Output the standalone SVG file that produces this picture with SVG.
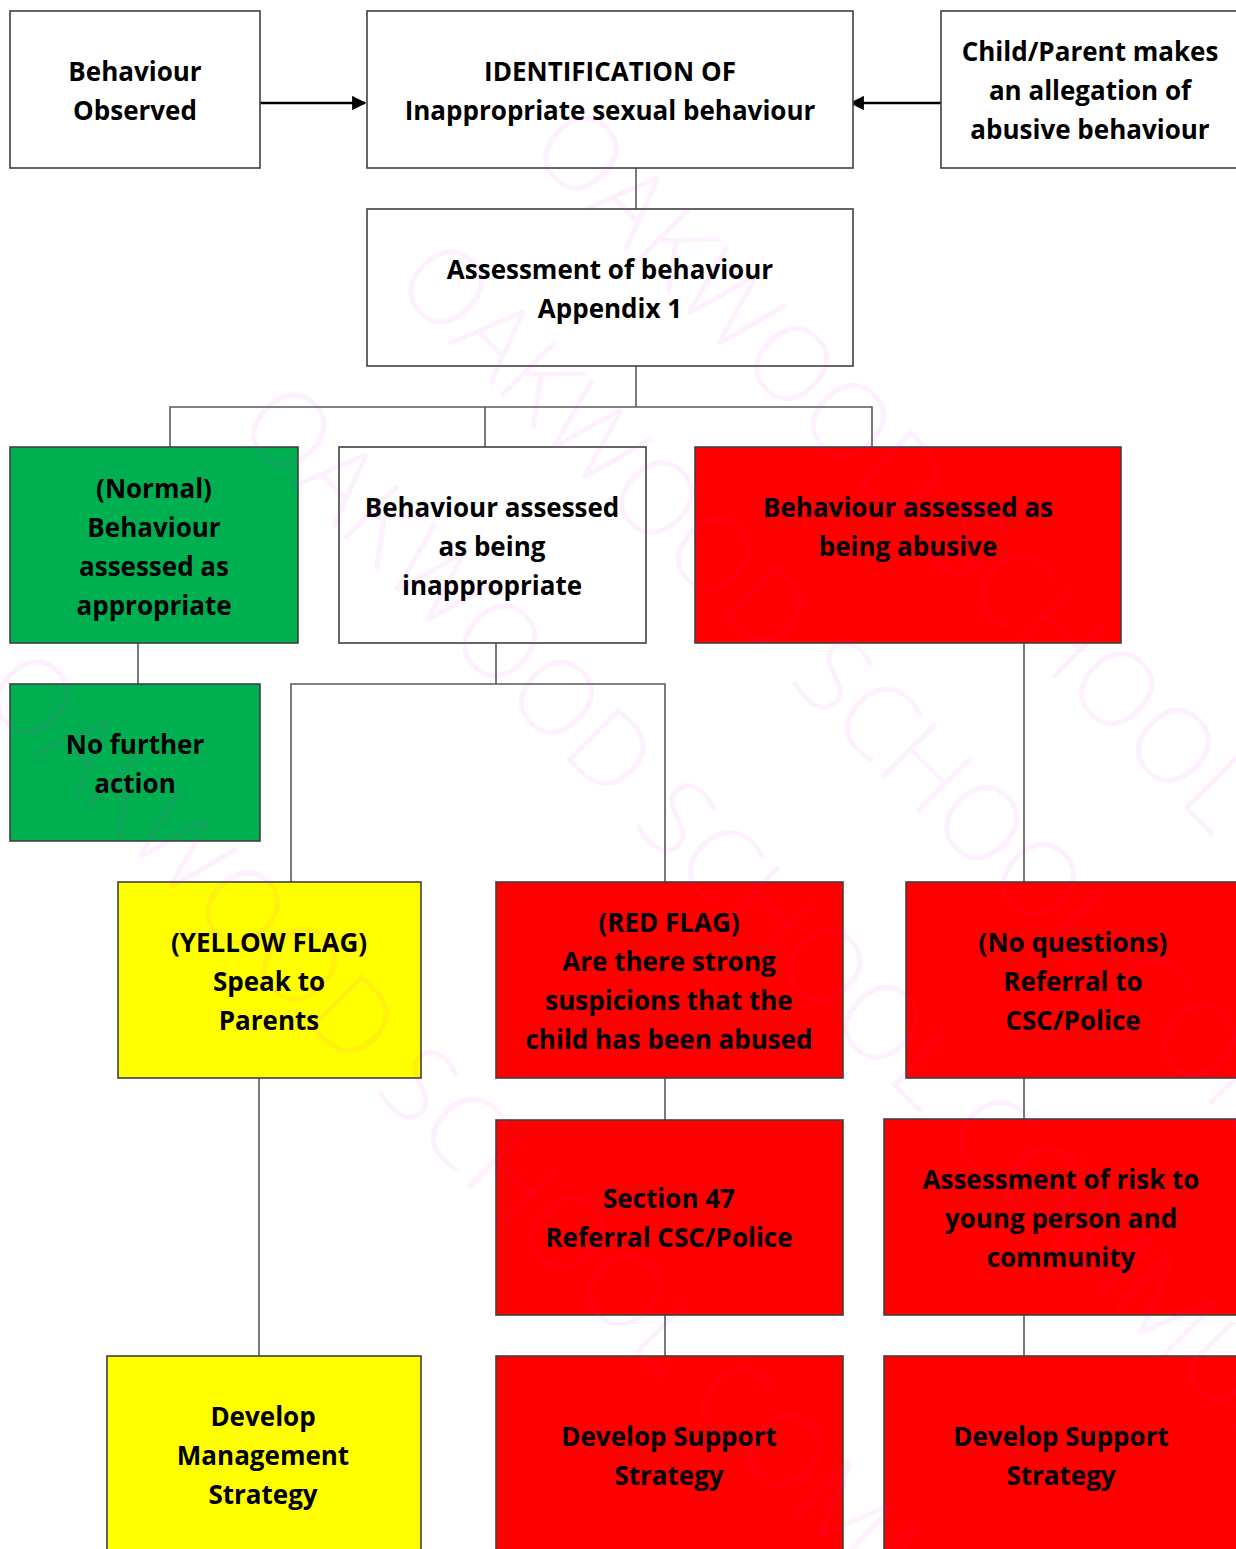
<svg xmlns="http://www.w3.org/2000/svg" width="1236" height="1549" viewBox="0 0 1236 1549">
  <defs>
    <marker id="arr" viewBox="0 0 10 10" refX="9" refY="5" markerWidth="6" markerHeight="5.5" markerUnits="strokeWidth" orient="auto">
      <path d="M0,0 L10,5 L0,10 z" fill="#000"/>
    </marker>
  </defs>
  <style>
    .box { stroke: #404040; stroke-width: 1.6; }
    .white { fill: #ffffff; }
    .green { fill: #00b050; }
    .yellow { fill: #ffff00; }
    .red { fill: #ff0000; }
    .t { font-family: "Open Sans", "Liberation Sans", sans-serif; font-weight: bold; font-size: 26px; text-anchor: middle; fill: #000; }
    .conn { stroke: #595959; stroke-width: 1.6; fill: none; }
    .arrow { stroke: #000; stroke-width: 2.6; fill: none; }
    .wm { font-family: "Open Sans", "Liberation Sans", sans-serif; font-weight: 300; font-size: 105px; fill: #ff00ff; fill-opacity: 0.06; }
  </style>
  <rect width="1236" height="1549" fill="#ffffff"/>

  <g id="connectors">
    <line class="arrow" x1="260" y1="103" x2="365" y2="103" marker-end="url(#arr)"/>
    <line class="arrow" x1="941" y1="103" x2="851" y2="103" marker-end="url(#arr)"/>
    <line class="conn" x1="636" y1="168" x2="636" y2="209"/>
    <line class="conn" x1="636" y1="366" x2="636" y2="407"/>
    <polyline class="conn" points="170,447 170,407 872,407 872,447"/>
    <line class="conn" x1="485" y1="407" x2="485" y2="447"/>
    <line class="conn" x1="138" y1="643" x2="138" y2="684"/>
    <line class="conn" x1="496" y1="643" x2="496" y2="684"/>
    <polyline class="conn" points="291,882 291,684 665,684 665,882"/>
    <line class="conn" x1="1024" y1="643" x2="1024" y2="882"/>
    <line class="conn" x1="259" y1="1078" x2="259" y2="1356"/>
    <line class="conn" x1="665" y1="1078" x2="665" y2="1120"/>
    <line class="conn" x1="665" y1="1315" x2="665" y2="1356"/>
    <line class="conn" x1="1024" y1="1078" x2="1024" y2="1119"/>
    <line class="conn" x1="1024" y1="1315" x2="1024" y2="1356"/>
  </g>

  <g id="n-observed">
    <rect class="box white" x="10" y="11" width="250" height="157"/>
    <text class="t" x="135" y="81">Behaviour</text>
    <text class="t" x="135" y="120">Observed</text>
  </g>
  <g id="n-identification">
    <rect class="box white" x="367" y="11" width="486" height="157"/>
    <text class="t" x="610" y="81">IDENTIFICATION OF</text>
    <text class="t" x="610" y="120">Inappropriate sexual behaviour</text>
  </g>
  <g id="n-allegation">
    <rect class="box white" x="941" y="11" width="300" height="157"/>
    <text class="t" x="1090" y="61">Child/Parent makes</text>
    <text class="t" x="1090" y="100">an allegation of</text>
    <text class="t" x="1090" y="139">abusive behaviour</text>
  </g>
  <g id="n-assessment">
    <rect class="box white" x="367" y="209" width="486" height="157"/>
    <text class="t" x="610" y="279">Assessment of behaviour</text>
    <text class="t" x="610" y="318">Appendix 1</text>
  </g>
  <g id="n-appropriate">
    <rect class="box green" x="10" y="447" width="288" height="196"/>
    <text class="t" x="154" y="498">(Normal)</text>
    <text class="t" x="154" y="537">Behaviour</text>
    <text class="t" x="154" y="576">assessed as</text>
    <text class="t" x="154" y="615">appropriate</text>
  </g>
  <g id="n-inappropriate">
    <rect class="box white" x="339" y="447" width="307" height="196"/>
    <text class="t" x="492" y="517">Behaviour assessed</text>
    <text class="t" x="492" y="556">as being</text>
    <text class="t" x="492" y="595">inappropriate</text>
  </g>
  <g id="n-abusive">
    <rect class="box red" x="695" y="447" width="426" height="196"/>
    <text class="t" x="908" y="517">Behaviour assessed as</text>
    <text class="t" x="908" y="556">being abusive</text>
  </g>
  <g id="n-nofurther">
    <rect class="box green" x="10" y="684" width="250" height="157"/>
    <text class="t" x="135" y="754">No further</text>
    <text class="t" x="135" y="793">action</text>
  </g>
  <g id="n-yellowflag">
    <rect class="box yellow" x="118" y="882" width="303" height="196"/>
    <text class="t" x="269" y="952">(YELLOW FLAG)</text>
    <text class="t" x="269" y="991">Speak to</text>
    <text class="t" x="269" y="1030">Parents</text>
  </g>
  <g id="n-redflag">
    <rect class="box red" x="496" y="882" width="347" height="196"/>
    <text class="t" x="669" y="932">(RED FLAG)</text>
    <text class="t" x="669" y="971">Are there strong</text>
    <text class="t" x="669" y="1010">suspicions that the</text>
    <text class="t" x="669" y="1049">child has been abused</text>
  </g>
  <g id="n-noquestions">
    <rect class="box red" x="906" y="882" width="335" height="196"/>
    <text class="t" x="1073" y="952">(No questions)</text>
    <text class="t" x="1073" y="991">Referral to</text>
    <text class="t" x="1073" y="1030">CSC/Police</text>
  </g>
  <g id="n-section47">
    <rect class="box red" x="496" y="1120" width="347" height="195"/>
    <text class="t" x="669" y="1208">Section 47</text>
    <text class="t" x="669" y="1247">Referral CSC/Police</text>
  </g>
  <g id="n-risk">
    <rect class="box red" x="884" y="1119" width="357" height="196"/>
    <text class="t" x="1061" y="1189">Assessment of risk to</text>
    <text class="t" x="1061" y="1228">young person and</text>
    <text class="t" x="1061" y="1267">community</text>
  </g>
  <g id="n-management">
    <rect class="box yellow" x="107" y="1356" width="314" height="200"/>
    <text class="t" x="263" y="1426">Develop</text>
    <text class="t" x="263" y="1465">Management</text>
    <text class="t" x="263" y="1504">Strategy</text>
  </g>
  <g id="n-support1">
    <rect class="box red" x="496" y="1356" width="347" height="200"/>
    <text class="t" x="669" y="1446">Develop Support</text>
    <text class="t" x="669" y="1485">Strategy</text>
  </g>
  <g id="n-support2">
    <rect class="box red" x="884" y="1356" width="357" height="200"/>
    <text class="t" x="1061" y="1446">Develop Support</text>
    <text class="t" x="1061" y="1485">Strategy</text>
  </g>

  <g id="watermark">
    <text class="wm" x="526" y="151" transform="rotate(45 526 151)">OAKWOOD SCHOOL COMMUNITY</text>
    <text class="wm" x="391" y="285" transform="rotate(45 391 285)">OAKWOOD SCHOOL COMMUNITY</text>
    <text class="wm" x="234" y="428" transform="rotate(45 234 428)">OAKWOOD SCHOOL COMMUNITY</text>
    <text class="wm" x="-23" y="695" transform="rotate(45 -23 695)">OAKWOOD SCHOOL COMMUNITY</text>
  </g>
</svg>
